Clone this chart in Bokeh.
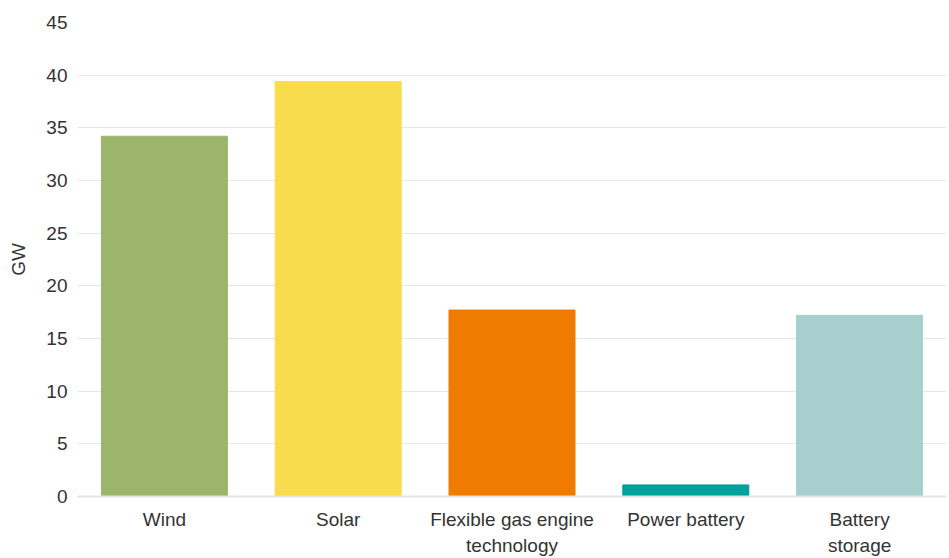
from bokeh.plotting import figure
from bokeh.models import ColumnDataSource, FactorRange, Range1d, FixedTicker
from bokeh.embed import file_html
from bokeh.resources import INLINE

# Installed capacity by technology (GW)
categories = ["Wind", "Solar", "Flexible gas engine\ntechnology", "Power battery", "Battery\nstorage"]
capacity_gw = [34.2, 39.4, 17.7, 1.1, 17.2]
bar_colors = ["#9bb66b", "#f8dc4e", "#ef7b00", "#00a19a", "#a6cfcd"]
y_ticks = [0, 5, 10, 15, 20, 25, 30, 35, 40, 45]

FONT = "Liberation Sans"
TEXT = "#333333"
FONT_SIZE = "19px"

source = ColumnDataSource(dict(cat=categories, gw=capacity_gw, color=bar_colors))

p = figure(
    width=949, height=558,
    x_range=FactorRange(*categories, range_padding=0),
    y_range=Range1d(0, 45),
    output_backend="svg", toolbar_location=None,
    min_border_left=77, min_border_right=3, min_border_top=22, min_border_bottom=62,
)

p.vbar(x="cat", top="gw", width=0.725, color="color", source=source)

p.outline_line_color = None
p.background_fill_color = "white"
p.border_fill_color = "white"

# grid
p.xgrid.grid_line_color = None
p.ygrid.grid_line_color = "#e6e6e6"
p.ygrid.grid_line_width = 1
p.ygrid.ticker = FixedTicker(ticks=y_ticks)

# y axis
p.yaxis.ticker = FixedTicker(ticks=y_ticks)
p.yaxis.axis_label = "GW"
p.yaxis.axis_label_text_font = FONT
p.yaxis.axis_label_text_font_style = "normal"
p.yaxis.axis_label_text_font_size = FONT_SIZE
p.yaxis.axis_label_text_color = TEXT
p.yaxis.axis_label_standoff = 14
p.yaxis.major_label_text_font = FONT
p.yaxis.major_label_text_font_size = FONT_SIZE
p.yaxis.major_label_text_color = TEXT
p.yaxis.major_label_standoff = 10
p.yaxis.axis_line_color = None
p.yaxis.major_tick_line_color = None
p.yaxis.major_tick_out = 0
p.yaxis.minor_tick_line_color = None
p.yaxis.minor_tick_out = 0

# x axis (baseline drawn as the axis line)
p.xaxis.axis_line_color = "#e3e3e3"
p.xaxis.axis_line_width = 2
p.xaxis.major_tick_line_color = None
p.xaxis.major_tick_out = 0
p.xaxis.minor_tick_line_color = None
p.xaxis.minor_tick_out = 0
p.xaxis.major_label_text_font = FONT
p.xaxis.major_label_text_font_size = FONT_SIZE
p.xaxis.major_label_text_color = TEXT
p.xaxis.major_label_text_line_height = 1.25
p.xaxis.major_label_standoff = 12

open("out.html", "w").write(file_html(p, INLINE))
